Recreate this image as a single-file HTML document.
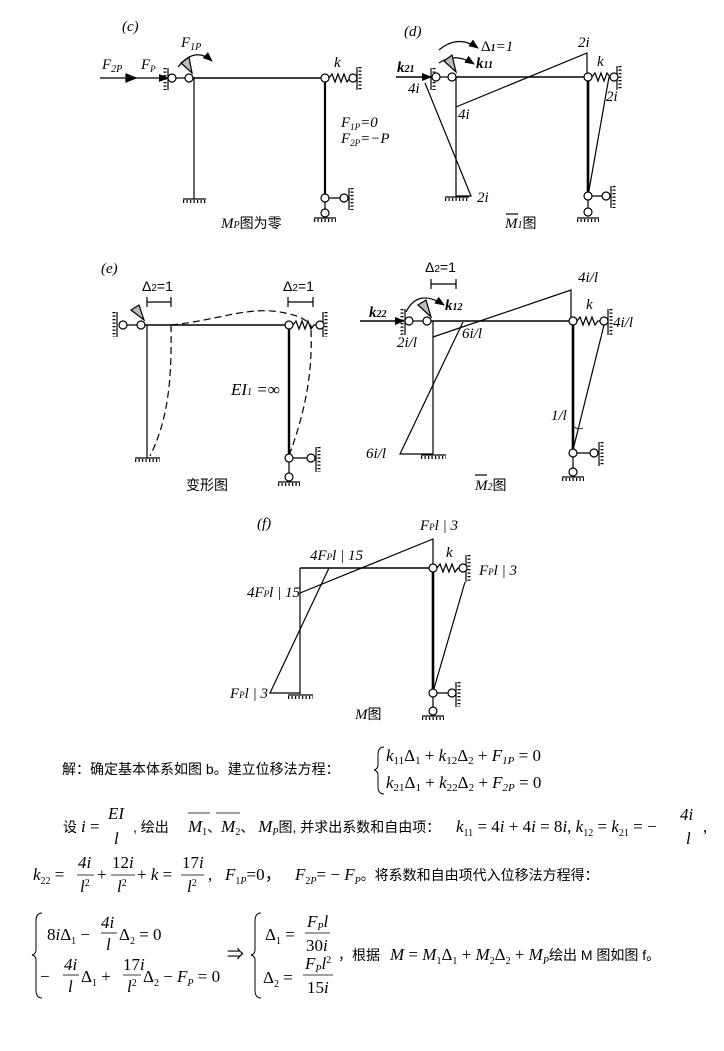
<!DOCTYPE html>
<html><head><meta charset="utf-8"><style>
html,body{margin:0;padding:0;background:#fff}
svg{display:block}
.t{font-family:"Liberation Serif",serif;font-style:italic;font-size:15px}
.c{font-family:"Liberation Sans","Noto Sans CJK SC",sans-serif;font-size:14px}
.m{font-family:"Liberation Serif","Noto Sans CJK SC",serif;font-size:17px}
.mi{font-family:"Liberation Serif",serif;font-style:italic;font-size:17px}
</style></head><body>
<svg width="724" height="1051" viewBox="0 0 724 1051" xmlns="http://www.w3.org/2000/svg">
<defs>
<marker id="ah" markerWidth="10" markerHeight="8" refX="9" refY="4" orient="auto" markerUnits="userSpaceOnUse"><path d="M0,0 L10,4 L0,8 Z" fill="#000"/></marker>
</defs>
<g stroke="#000" fill="none" stroke-width="1.2">
<!-- (c) -->
<line x1="100" y1="78" x2="168" y2="78" marker-end="url(#ah)"/>
<path d="M126,74 L136,78 L126,82Z" fill="#000"/>
<line x1="168" y1="68" x2="168" y2="90"/><line x1="165" y1="68" x2="165" y2="90" stroke-width="3" stroke-dasharray="1.2 2.3"/>
<line x1="172" y1="78" x2="189" y2="78"/>
<polygon points="181,63 189,57 192,73" fill="#bbb"/>
<path d="M178,67 Q195,46 212,61" marker-end="url(#ah)"/>
<line x1="189" y1="78" x2="325" y2="78" stroke-width="1.5"/>
<line x1="194" y1="78" x2="194" y2="199"/>
<line x1="183" y1="199" x2="206" y2="199"/><line x1="183" y1="201.5" x2="206" y2="201.5" stroke-width="3" stroke-dasharray="1.2 2.3"/>
<line x1="325" y1="78" x2="325" y2="198" stroke-width="2.2"/>
<polyline points="329,78 332,74 335,82 338,74 341,82 344,74 347,82 350,78 353,78"/>
<line x1="357" y1="67" x2="357" y2="90"/><line x1="360" y1="67" x2="360" y2="90" stroke-width="3" stroke-dasharray="1.2 2.3"/>
<line x1="325" y1="198" x2="344" y2="198"/><line x1="325" y1="198" x2="325" y2="213"/>
<line x1="349" y1="188" x2="349" y2="210"/><line x1="352" y1="188" x2="352" y2="210" stroke-width="3" stroke-dasharray="1.2 2.3"/>
<line x1="314" y1="218" x2="336" y2="218"/><line x1="314" y1="220.5" x2="336" y2="220.5" stroke-width="3" stroke-dasharray="1.2 2.3"/>
<g fill="#fff"><circle cx="172" cy="78" r="4"/><circle cx="189" cy="78" r="4"/><circle cx="325" cy="78" r="4"/><circle cx="353" cy="78" r="4"/><circle cx="325" cy="198" r="4"/><circle cx="344" cy="198" r="4"/><circle cx="325" cy="213" r="4"/></g>

<!-- (d) -->
<path d="M439,50 Q458,34 478,48" marker-end="url(#ah)"/>
<path d="M439,63 Q455,52 474,64" marker-end="url(#ah)"/>
<line x1="396" y1="77" x2="431" y2="77" stroke-width="1.6" marker-end="url(#ah)"/>
<line x1="431" y1="68" x2="431" y2="90"/><line x1="434" y1="68" x2="434" y2="90" stroke-width="3" stroke-dasharray="1.2 2.3"/>
<line x1="436" y1="77" x2="452" y2="77"/>
<polygon points="444,61 452,55 456,72" fill="#bbb"/>
<line x1="452" y1="77" x2="588" y2="77" stroke-width="1.5"/>
<line x1="456" y1="77" x2="456" y2="197"/>
<line x1="445" y1="197" x2="469" y2="197"/><line x1="445" y1="199.5" x2="469" y2="199.5" stroke-width="3" stroke-dasharray="1.2 2.3"/>
<polyline points="456,107 587,53 587,77"/>
<polyline points="425,83 471,196 456,196"/>
<line x1="588" y1="77" x2="588" y2="196" stroke-width="2.6"/>
<polyline points="592,77 595,73 598,81 601,73 604,81 607,73 610,77 614,77"/>
<line x1="617" y1="66" x2="617" y2="90"/><line x1="620" y1="66" x2="620" y2="90" stroke-width="3" stroke-dasharray="1.2 2.3"/>
<line x1="609" y1="77" x2="588" y2="196"/>
<line x1="588" y1="196" x2="606" y2="196"/><line x1="588" y1="196" x2="588" y2="212"/>
<line x1="611" y1="186" x2="611" y2="208"/><line x1="614" y1="186" x2="614" y2="208" stroke-width="3" stroke-dasharray="1.2 2.3"/>
<line x1="577" y1="218" x2="599" y2="218"/><line x1="577" y1="220.5" x2="599" y2="220.5" stroke-width="3" stroke-dasharray="1.2 2.3"/>
<g fill="#fff"><circle cx="436" cy="77" r="4"/><circle cx="452" cy="77" r="4"/><circle cx="588" cy="77" r="4"/><circle cx="614" cy="77" r="4"/><circle cx="588" cy="196" r="4"/><circle cx="606" cy="196" r="4"/><circle cx="588" cy="212" r="4"/></g>
<line x1="506" y1="214" x2="518" y2="214"/>

<!-- (e) -->
<line x1="147" y1="302" x2="171" y2="302"/><line x1="147" y1="297" x2="147" y2="307"/><line x1="171" y1="297" x2="171" y2="307"/>
<line x1="288" y1="302" x2="313" y2="302"/><line x1="288" y1="297" x2="288" y2="307"/><line x1="313" y1="297" x2="313" y2="307"/>
<line x1="117" y1="312" x2="117" y2="337"/><line x1="114" y1="312" x2="114" y2="337" stroke-width="3" stroke-dasharray="1.2 2.3"/>
<line x1="123" y1="325" x2="141" y2="325"/>
<polygon points="131,310 139,305 144,320" fill="#bbb"/>
<line x1="141" y1="325" x2="289" y2="325" stroke-width="1.5"/>
<line x1="147" y1="325" x2="147" y2="458"/>
<line x1="135" y1="458" x2="160" y2="458"/><line x1="135" y1="460.5" x2="160" y2="460.5" stroke-width="3" stroke-dasharray="1.2 2.3"/>
<g stroke-dasharray="7 4">
<path d="M171,325 C172,380 168,420 150,456"/>
<path d="M171,325 C220,320 250,305 285,313 C300,316 308,320 312,328"/>
<path d="M311,330 C313,380 302,420 289,456"/>
</g>
<line x1="289" y1="325" x2="289" y2="458" stroke-width="2.4"/>
<polyline points="293,325 296,321 299,329 302,321 305,329 308,321 311,329 314,325 320,325"/>
<line x1="323" y1="312" x2="323" y2="337"/><line x1="326" y1="312" x2="326" y2="337" stroke-width="3" stroke-dasharray="1.2 2.3"/>
<line x1="289" y1="458" x2="311" y2="458"/><line x1="289" y1="458" x2="289" y2="477"/>
<line x1="316" y1="447" x2="316" y2="472"/><line x1="319" y1="447" x2="319" y2="472" stroke-width="3" stroke-dasharray="1.2 2.3"/>
<line x1="278" y1="482" x2="300" y2="482"/><line x1="278" y1="484.5" x2="300" y2="484.5" stroke-width="3" stroke-dasharray="1.2 2.3"/>
<g fill="#fff"><circle cx="123" cy="325" r="4"/><circle cx="141" cy="325" r="4"/><circle cx="289" cy="325" r="4"/><circle cx="320" cy="325" r="4"/><circle cx="289" cy="458" r="4"/><circle cx="311" cy="458" r="4"/><circle cx="289" cy="477" r="4"/></g>

<!-- M2 -->
<line x1="431" y1="284" x2="456" y2="284"/><line x1="431" y1="279" x2="431" y2="289"/><line x1="456" y1="279" x2="456" y2="289"/>
<line x1="360" y1="321" x2="404" y2="321" stroke-width="1.6" marker-end="url(#ah)"/>
<line x1="405" y1="309" x2="405" y2="335"/><line x1="402" y1="309" x2="402" y2="335" stroke-width="3" stroke-dasharray="1.2 2.3"/>
<line x1="409" y1="321" x2="427" y2="321"/>
<polygon points="418,305 426,300 431,317" fill="#bbb"/>
<path d="M406,312 Q418,288 444,305" marker-end="url(#ah)"/>
<line x1="427" y1="321" x2="573" y2="321" stroke-width="1.5"/>
<line x1="433" y1="321" x2="433" y2="454"/>
<line x1="421" y1="455" x2="446" y2="455"/><line x1="421" y1="457.5" x2="446" y2="457.5" stroke-width="3" stroke-dasharray="1.2 2.3"/>
<polyline points="433,337 571,290 571,321"/>
<polyline points="463,322 400,454 433,454"/>
<line x1="573" y1="321" x2="573" y2="453" stroke-width="2.6"/>
<polyline points="577,321 580,317 583,325 586,317 589,325 592,317 595,325 598,321 604,321"/>
<line x1="608" y1="309" x2="608" y2="335"/><line x1="611" y1="309" x2="611" y2="335" stroke-width="3" stroke-dasharray="1.2 2.3"/>
<line x1="604" y1="325" x2="573" y2="450"/>
<path d="M574,427 Q579,430 583,428" stroke-width="0.8"/>
<line x1="573" y1="453" x2="594" y2="453"/><line x1="573" y1="453" x2="573" y2="472"/>
<line x1="599" y1="442" x2="599" y2="466"/><line x1="602" y1="442" x2="602" y2="466" stroke-width="3" stroke-dasharray="1.2 2.3"/>
<line x1="562" y1="477" x2="584" y2="477"/><line x1="562" y1="479.5" x2="584" y2="479.5" stroke-width="3" stroke-dasharray="1.2 2.3"/>
<g fill="#fff"><circle cx="409" cy="321" r="4"/><circle cx="427" cy="321" r="4"/><circle cx="573" cy="321" r="4"/><circle cx="604" cy="321" r="4"/><circle cx="573" cy="453" r="4"/><circle cx="594" cy="453" r="4"/><circle cx="573" cy="472" r="4"/></g>
<line x1="475" y1="475" x2="487" y2="475"/>

<!-- (f) -->
<line x1="300" y1="568" x2="433" y2="568" stroke-width="1.5"/>
<line x1="300" y1="568" x2="300" y2="694"/>
<line x1="288" y1="695" x2="313" y2="695"/><line x1="288" y1="697.5" x2="313" y2="697.5" stroke-width="3" stroke-dasharray="1.2 2.3"/>
<polyline points="300,593 433,539 433,568"/>
<polyline points="329,568 270,693 300,693"/>
<line x1="433" y1="568" x2="433" y2="693" stroke-width="2.6"/>
<polyline points="437,568 440,564 443,572 446,564 449,572 452,564 455,572 458,568 463,568"/>
<line x1="466" y1="555" x2="466" y2="582"/><line x1="469" y1="555" x2="469" y2="582" stroke-width="3" stroke-dasharray="1.2 2.3"/>
<line x1="465" y1="582" x2="433" y2="692"/>
<line x1="433" y1="693" x2="452" y2="693"/><line x1="433" y1="693" x2="433" y2="711"/>
<line x1="456" y1="682" x2="456" y2="707"/><line x1="459" y1="682" x2="459" y2="707" stroke-width="3" stroke-dasharray="1.2 2.3"/>
<line x1="422" y1="716" x2="444" y2="716"/><line x1="422" y1="718.5" x2="444" y2="718.5" stroke-width="3" stroke-dasharray="1.2 2.3"/>
<g fill="#fff"><circle cx="433" cy="568" r="4"/><circle cx="463" cy="568" r="4"/><circle cx="433" cy="693" r="4"/><circle cx="452" cy="693" r="4"/><circle cx="433" cy="711" r="4"/></g>

<!-- equation braces and bars -->
<path d="M384,747 Q378,747 378,755 L378,765 Q378,769 374,770 Q378,771 378,775 L378,787 Q378,794 384,794" stroke-width="1"/>
<path d="M42,913 Q36,913 36,921 L36,950 Q36,954 32,955 Q36,956 36,960 L36,990 Q36,998 42,998" stroke-width="1"/>
<path d="M261,913 Q255,913 255,921 L255,950 Q255,954 251,955 Q255,956 255,960 L255,990 Q255,998 261,998" stroke-width="1"/>
<line x1="188" y1="813" x2="210" y2="813" stroke-width="0.8"/><line x1="216" y1="813" x2="240" y2="813" stroke-width="0.8"/>
<line x1="77" y1="875" x2="94" y2="875" stroke-width="0.8"/><line x1="111" y1="875" x2="135" y2="875" stroke-width="0.8"/><line x1="181" y1="875" x2="204" y2="875" stroke-width="0.8"/>
<line x1="101" y1="933" x2="117" y2="933" stroke-width="0.8"/>
<line x1="63" y1="975" x2="79" y2="975" stroke-width="0.8"/><line x1="123" y1="975" x2="141" y2="975" stroke-width="0.8"/>
<line x1="305" y1="933" x2="330" y2="933" stroke-width="0.8"/><line x1="303" y1="975" x2="333" y2="975" stroke-width="0.8"/>
</g>

<g class="t" fill="#000">
<text x="122" y="31">(c)</text>
<text x="102" y="69" font-size="15">F<tspan font-size="10" dy="3">2P</tspan></text>
<text x="141" y="69" font-size="15">F<tspan font-size="9" dy="3">P</tspan></text>
<text x="181" y="47" font-size="15">F<tspan font-size="10" dy="3">1P</tspan></text>
<text x="334" y="67">k</text>
<text x="341" y="127">F<tspan font-size="9" dy="3">1P</tspan><tspan dy="-3">=0</tspan></text>
<text x="341" y="143">F<tspan font-size="9" dy="3">2P</tspan><tspan dy="-3">=−P</tspan></text>
<text x="221" y="228">M<tspan font-size="10">P</tspan><tspan class="c" font-style="normal" font-size="15">图为零</tspan></text>

<text x="404" y="36">(d)</text>
<text x="481" y="51" font-style="normal">Δ<tspan font-style="italic" font-size="10" font-weight="bold">1</tspan><tspan font-style="italic">=1</tspan></text>
<text x="476" y="68" font-weight="bold">k<tspan font-size="10">11</tspan></text>
<text x="397" y="72" font-weight="bold">k<tspan font-size="10">21</tspan></text>
<text x="578" y="47">2i</text>
<text x="458" y="119">4i</text>
<text x="408" y="93">4i</text>
<text x="477" y="202">2i</text>
<text x="606" y="101">2i</text>
<text x="597" y="66">k</text>
<text x="505" y="228">M<tspan font-size="10">1</tspan><tspan class="c" font-style="normal" font-size="15">图</tspan></text>

<text x="101" y="273">(e)</text>
<text x="142" y="291" font-style="normal" class="c" font-size="15">Δ<tspan font-size="10">2</tspan>=1</text>
<text x="283" y="291" font-style="normal" class="c" font-size="15">Δ<tspan font-size="10">2</tspan>=1</text>
<text x="231" y="395" font-size="17">EI<tspan font-size="10">1</tspan> =∞</text>
<text x="186" y="490" class="c" font-style="normal" font-size="15">变形图</text>

<text x="425" y="272" font-style="normal" class="c" font-size="15">Δ<tspan font-size="10">2</tspan>=1</text>
<text x="369" y="317" font-weight="bold">k<tspan font-size="10">22</tspan></text>
<text x="445" y="310" font-weight="bold">k<tspan font-size="10">12</tspan></text>
<text x="578" y="282">4i/l</text>
<text x="397" y="347">2i/l</text>
<text x="462" y="338">6i/l</text>
<text x="366" y="458">6i/l</text>
<text x="586" y="309">k</text>
<text x="613" y="327">4i/l</text>
<text x="551" y="420">1/l</text>
<text x="475" y="490">M<tspan font-size="10">2</tspan><tspan class="c" font-style="normal" font-size="15">图</tspan></text>

<text x="257" y="528">(f)</text>
<text x="420" y="530">F<tspan font-size="9">P</tspan>l | 3</text>
<text x="310" y="560">4F<tspan font-size="9">P</tspan>l | 15</text>
<text x="247" y="597">4F<tspan font-size="9">P</tspan>l | 15</text>
<text x="446" y="557">k</text>
<text x="479" y="575">F<tspan font-size="9">P</tspan>l | 3</text>
<text x="230" y="698">F<tspan font-size="9">P</tspan>l | 3</text>
<text x="355" y="719">M<tspan class="c" font-style="normal" font-size="15">图</tspan></text>
</g>

<g fill="#000">
<text x="62" y="774" class="c" font-size="16">解：确定基本体系如图 b。建立位移法方程：</text>
<text x="386" y="761" class="mi">k<tspan font-size="11" dy="3" font-style="normal">11</tspan><tspan dy="-3" font-style="normal">Δ</tspan><tspan font-size="11" dy="3" font-style="normal">1</tspan><tspan dy="-3" font-style="normal"> + </tspan>k<tspan font-size="11" dy="3" font-style="normal">12</tspan><tspan dy="-3" font-style="normal">Δ</tspan><tspan font-size="11" dy="3" font-style="normal">2</tspan><tspan dy="-3" font-style="normal"> + </tspan>F<tspan font-size="11" dy="3">1P</tspan><tspan dy="-3" font-style="normal"> = 0</tspan></text>
<text x="386" y="788" class="mi">k<tspan font-size="11" dy="3" font-style="normal">21</tspan><tspan dy="-3" font-style="normal">Δ</tspan><tspan font-size="11" dy="3" font-style="normal">1</tspan><tspan dy="-3" font-style="normal"> + </tspan>k<tspan font-size="11" dy="3" font-style="normal">22</tspan><tspan dy="-3" font-style="normal">Δ</tspan><tspan font-size="11" dy="3" font-style="normal">2</tspan><tspan dy="-3" font-style="normal"> + </tspan>F<tspan font-size="11" dy="3">2P</tspan><tspan dy="-3" font-style="normal"> = 0</tspan></text>

<text x="63" y="832" class="c" font-size="16">设</text>
<text x="81" y="832" class="mi">i <tspan font-style="normal">=</tspan></text>
<text x="108" y="819" class="mi" font-size="15">EI</text>
<text x="114" y="844" class="mi" font-size="15">l</text>
<text x="133" y="832" class="c" font-size="16">, 绘出</text>
<text x="188" y="832" class="mi">M<tspan font-size="10" dy="3" font-style="normal">1</tspan><tspan dy="-3" class="c" font-style="normal" font-size="15">、</tspan>M<tspan font-size="10" dy="3" font-style="normal">2</tspan><tspan dy="-3" class="c" font-style="normal" font-size="15">、 </tspan>M<tspan font-size="10" dy="3">P</tspan><tspan dy="-3" class="c" font-style="normal" font-size="16">图, 并求出系数和自由项：</tspan></text>
<text x="456" y="832" class="mi">k<tspan font-size="10" dy="4" font-style="normal">11</tspan><tspan dy="-4" font-style="normal"> = 4</tspan>i<tspan font-style="normal"> + 4</tspan>i<tspan font-style="normal"> = 8</tspan>i<tspan font-style="normal">,  </tspan>k<tspan font-size="10" dy="4" font-style="normal">12</tspan><tspan dy="-4" font-style="normal"> = </tspan>k<tspan font-size="10" dy="4" font-style="normal">21</tspan><tspan dy="-4" font-style="normal"> = −</tspan></text>
<text x="680" y="820" class="mi">4i</text>
<text x="686" y="844" class="mi">l</text>
<text x="703" y="832" class="m">,</text>

<text x="33" y="880" class="mi">k<tspan font-size="10" dy="4" font-style="normal">22</tspan><tspan dy="-4" font-style="normal"> =</tspan></text>
<text x="78" y="868" class="mi">4i</text><text x="80" y="892" class="mi">l<tspan font-size="10" dy="-6" font-style="normal">2</tspan></text>
<text x="97" y="880" class="m">+</text>
<text x="112" y="868" class="mi"><tspan font-style="normal">12</tspan>i</text><text x="117" y="892" class="mi">l<tspan font-size="10" dy="-6" font-style="normal">2</tspan></text>
<text x="137" y="880" class="mi"><tspan font-style="normal">+ </tspan>k<tspan font-style="normal"> =</tspan></text>
<text x="182" y="868" class="mi"><tspan font-style="normal">17</tspan>i</text><text x="187" y="892" class="mi">l<tspan font-size="10" dy="-6" font-style="normal">2</tspan></text>
<text x="208" y="880" class="m">,</text>
<text x="225" y="880" class="mi">F<tspan font-size="10" dy="4" font-style="normal">1</tspan><tspan font-size="10">P</tspan><tspan dy="-4" font-style="normal">=0，</tspan></text>
<text x="295" y="880" class="mi">F<tspan font-size="10" dy="4" font-style="normal">2</tspan><tspan font-size="10">P</tspan><tspan dy="-4" font-style="normal">= − </tspan>F<tspan font-size="10" dy="4">P</tspan><tspan dy="-4" class="c" font-style="normal" font-size="16">。将系数和自由项代入位移法方程得：</tspan></text>

<text x="47" y="940" class="mi"><tspan font-style="normal">8</tspan>i<tspan font-style="normal">Δ</tspan><tspan font-size="10" dy="4" font-style="normal">1</tspan><tspan dy="-4" font-style="normal"> −</tspan></text>
<text x="101" y="928" class="mi">4i</text><text x="106" y="950" class="mi">l</text>
<text x="119" y="940" class="m">Δ<tspan font-size="10" dy="4">2</tspan><tspan dy="-4"> = 0</tspan></text>
<text x="40" y="982" class="m">−</text>
<text x="64" y="970" class="mi">4i</text><text x="68" y="992" class="mi">l</text>
<text x="81" y="982" class="m">Δ<tspan font-size="10" dy="4">1</tspan><tspan dy="-4"> +</tspan></text>
<text x="123" y="970" class="mi"><tspan font-style="normal">17</tspan>i</text><text x="127" y="992" class="mi">l<tspan font-size="10" dy="-6" font-style="normal">2</tspan></text>
<text x="143" y="982" class="mi"><tspan font-style="normal">Δ</tspan><tspan font-size="10" dy="4" font-style="normal">2</tspan><tspan dy="-4" font-style="normal"> − </tspan>F<tspan font-size="10" dy="4">P</tspan><tspan dy="-4" font-style="normal"> = 0</tspan></text>
<text x="227" y="960" class="m">⇒</text>
<text x="265" y="940" class="m">Δ<tspan font-size="10" dy="4">1</tspan><tspan dy="-4"> =</tspan></text>
<text x="307" y="927" class="mi">F<tspan font-size="10" dy="3">P</tspan><tspan dy="-3">l</tspan></text>
<text x="306" y="951" class="mi"><tspan font-style="normal">30</tspan>i</text>
<text x="263" y="983" class="m">Δ<tspan font-size="10" dy="4">2</tspan><tspan dy="-4"> =</tspan></text>
<text x="305" y="969" class="mi">F<tspan font-size="10" dy="3">P</tspan><tspan dy="-3">l</tspan><tspan font-size="10" dy="-6" font-style="normal">2</tspan></text>
<text x="307" y="993" class="mi"><tspan font-style="normal">15</tspan>i</text>
<text x="338" y="960" class="c" font-size="16">，根据</text>
<text x="390" y="960" class="mi">M<tspan font-style="normal"> = </tspan>M<tspan font-size="10" dy="4" font-style="normal">1</tspan><tspan dy="-4" font-style="normal">Δ</tspan><tspan font-size="10" dy="4" font-style="normal">1</tspan><tspan dy="-4" font-style="normal"> + </tspan>M<tspan font-size="10" dy="4" font-style="normal">2</tspan><tspan dy="-4" font-style="normal">Δ</tspan><tspan font-size="10" dy="4" font-style="normal">2</tspan><tspan dy="-4" font-style="normal"> + </tspan>M<tspan font-size="10" dy="4">P</tspan><tspan dy="-4" class="c" font-style="normal" font-size="16">绘出 M 图如图 f。</tspan></text>
</g>
</svg>
</body></html>
